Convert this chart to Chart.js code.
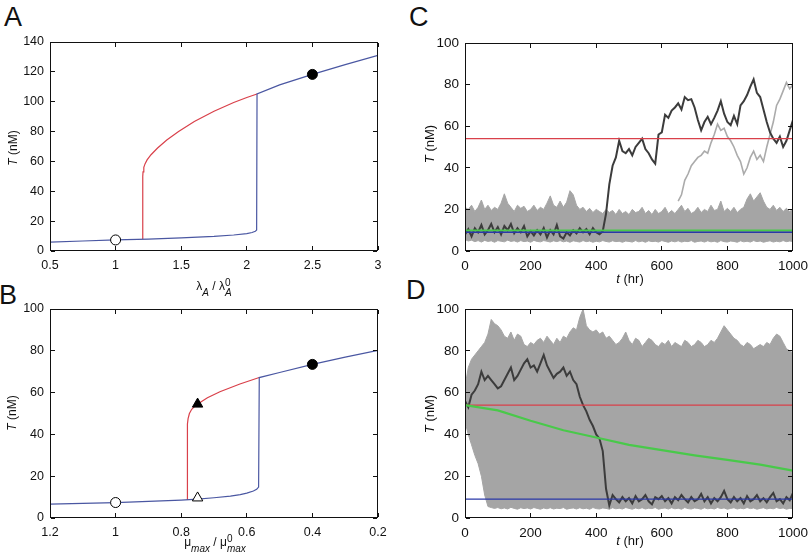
<!DOCTYPE html>
<html>
<head>
<meta charset="utf-8">
<script src="https://cdn.jsdelivr.net/npm/chart.js@4"></script>
<style>
  html, body { margin: 0; padding: 0; background: #fff; }
  #fig { position: relative; width: 810px; height: 560px; overflow: hidden;
         font-family: "Liberation Sans", Arial, Helvetica, sans-serif; color: #111; }
  .panel { position: absolute; }
  .box { position: absolute; box-sizing: border-box; border: 1px solid #111; pointer-events: none; z-index: 2; }
  .tk { position: absolute; background: #111; }
  .letter { position: absolute; font-size: 27px; line-height: 27px; }
  .xt, .yt { position: absolute; white-space: nowrap; font-size: 13px; line-height: 1; }
  .xt { transform: translate(-50%, -50%); }
  .yt { transform: translate(-50%, -50%) rotate(-90deg); }
  .stack { display: inline-block; vertical-align: -0.6em; font-size: 10px; line-height: 0.95; text-align: left; }
  .stack span { display: block; }
  .sub { display: inline-block; vertical-align: -0.6em; font-size: 10px; }
</style>
</head>
<body>
<div id="fig">
  <div class="letter" style="left:4px;top:4px">A</div>
  <div class="letter" style="left:409px;top:4px">C</div>
  <div class="letter" style="left:-1px;top:282px">B</div>
  <div class="letter" style="left:406px;top:277px">D</div>

  <div class="panel" id="pa"><canvas id="chart-a"></canvas></div>
  <div class="panel" id="pb"><canvas id="chart-b"></canvas></div>
  <div class="panel" id="pc"><canvas id="chart-c"></canvas></div>
  <div class="panel" id="pd"><canvas id="chart-d"></canvas></div>

  <div class="yt" style="left:13px;top:148px;font-size:12px"><i>T</i> (nM)</div>
  <div class="xt" style="left:214px;top:288px;font-size:12px">λ<span class="sub"><i>A</i></span> / λ<span class="stack"><span>0</span><span><i>A</i></span></span></div>
  <div class="yt" style="left:12px;top:413px;font-size:12px"><i>T</i> (nM)</div>
  <div class="xt" style="left:215px;top:544px;font-size:12px">μ<span class="sub"><i>max</i></span> / μ<span class="stack"><span>0</span><span><i>max</i></span></span></div>
  <div class="yt" style="left:429px;top:144px"><i>T</i> (nM)</div>
  <div class="xt" style="left:630px;top:278px"><i>t</i> (hr)</div>
  <div class="yt" style="left:429px;top:414px"><i>T</i> (nM)</div>
  <div class="xt" style="left:630px;top:540px"><i>t</i> (hr)</div>
</div>

<script>
// ── Panel A: bifurcation in λA ───────────────────────────
const aBlueX = [0.5, 0.75, 1.0, 1.25, 1.5, 1.75, 1.9, 2.0, 2.04, 2.065, 2.075, 2.078, 2.25, 2.5, 2.75, 3.0];
const aBlueY = [6.0, 6.7, 7.4, 8.0, 8.8, 9.8, 10.7, 11.6, 12.4, 13.2, 14.0, 105.2, 111.3, 118.3, 124.8, 131];
const aRedX  = [1.207, 1.207, 1.209, 1.215, 1.225, 1.24, 1.27, 1.32, 1.39, 1.48, 1.6, 1.75, 1.9, 2.0, 2.078];
const aRedY  = [8.0, 50, 53, 56, 58.5, 61, 64.5, 69, 74.4, 80, 86.8, 93.6, 99.5, 102.8, 105.2];
const aOpenPt   = [1.0, 7.4];
const aFilledPt = [2.5, 118.3];

// ── Panel B: bifurcation in μmax ─────────────────────────
const bBlueX = [1.2, 1.1, 1.0, 0.9, 0.8, 0.75, 0.7, 0.65, 0.62, 0.6, 0.58, 0.57, 0.564, 0.562, 0.5, 0.4, 0.3, 0.2];
const bBlueY = [6.6, 7.0, 7.4, 8.0, 8.6, 9.0, 9.7, 10.5, 11.2, 11.9, 12.9, 13.7, 14.8, 67.2, 69.6, 73.5, 77.0, 80.2];
const bRedX  = [0.781, 0.781, 0.779, 0.775, 0.768, 0.758, 0.745, 0.72, 0.682, 0.621, 0.562];
const bRedY  = [8.6, 45, 47.5, 50, 52, 53.5, 55, 57.5, 60.4, 64.1, 67.2];
const bOpenCircle = [1.0, 7.4];
const bOpenTri    = [0.75, 9.6];
const bFilledTri  = [0.75, 54.5];
const bFilledCirc = [0.4, 73.5];

// ── Panels C/D: stochastic trajectories ──────────────────
const tGrid = [0,10,20,30,40,50,60,70,80,90,100,110,120,130,140,150,160,170,180,190,200,210,220,230,240,250,260,270,280,290,
  300,310,320,330,340,350,360,370,380,390,400,410,420,430,440,450,460,470,480,490,500,510,520,530,540,550,560,570,580,590,
  600,610,620,630,640,650,660,670,680,690,700,710,720,730,740,750,760,770,780,790,800,810,820,830,840,850,860,870,880,890,
  900,910,920,930,940,950,960,970,980,990,1000];
const tSpan = [0, 1000];
const redLevel  = [54, 54];
const blueLevel = [9, 9];

const cBandTop = [21,20,22,19,21,24.5,20,22,19.5,21, 20,23,27.5,23,21,19,22,20.5,21.5,19,
  20,22,19.5,21,20,23,26.5,22,21,24, 21,23.5,29,27,22,20,21,19,20.5,18.5,
  20,19,18,20,18.5,19.5,17.5,20,18,19, 17.5,20,18.5,19,21,18,19.5,17.5,20,18,
  19,21,18,19.5,18,20,22,19,20.5,18, 19,21,18.5,20,19,22,19.5,20,24,19,
  20.5,19,21,18.5,20,21,25,27.5,24,26, 28,24,21,20,22,19.5,21,19,20.5,19,20];
const cBandLow = [5.5,4.8,5.2,4.5,5.0,4.3,5.1,4.6,4.9,4.2, 5.0,4.7,4.4,5.2,4.6,4.9,4.3,5.0,4.5,4.8,
  4.2,5.1,4.6,4.4,5.0,4.7,4.3,4.9,4.5,5.0, 4.4,4.8,4.2,4.9,4.6,4.3,5.0,4.5,4.8,4.2,
  4.7,4.4,5.0,4.6,4.3,4.9,4.5,4.7,4.2,4.8, 4.6,4.3,5.0,4.4,4.8,4.2,4.9,4.5,4.7,4.3,
  5.0,4.6,4.2,4.8,4.4,4.9,4.3,4.7,4.5,5.0, 4.2,4.6,4.8,4.3,4.9,4.4,4.7,4.2,5.0,4.5,
  4.3,4.8,4.6,4.2,4.9,4.4,4.7,4.3,5.0,4.5, 4.8,4.2,4.6,4.9,4.3,4.7,4.4,5.0,4.5,4.8,4.6];
const cDark = [8,10.5,7,11,9,12.5,8,10,13,9, 11.5,8,12,10,13,8.5,11,9,12,7,
  9.5,7.5,10,8,11,6.5,10,8,12.5,7, 6,9,7.5,10,8.5,11,9,10.5,8,11,
  9,8,9.5,18,32,41,45,53,48,47, 49,46,50,52,54,49,47,44,42,56,
  57,65.5,64,67.5,69,71,68,74,72.5,73, 69,63,58,62,64.5,61,64,67.5,72,66,
  62,60.5,65,61,70,72,75,79,82.5,76, 74,68,62,57,54,52,55,50,53,58,63];
const cLightT = [650,660,670,680,690,700,710,720,730,740,750,760,770,780,790,800,810,820,830,840,850,
  860,870,880,890,900,910,920,930,940,950,960,970,980,990,1000];
const cLight = [24,27,34,37,41,43,45,46,48,47,52,56,61,58,59,55,53,50,46,43,37,
  40,45,48,44,46,43,50,56,62,70,73,77,81,78,80];
const cGreen = [9.8, 9.8];

const dBandTop = [63,72,76,78,80,82,84,88,95,93, 92,90,87,86,89,85,88,87,83,82,
  84,83,85,86,84,87,85,83,86,84, 87,86,89,91,90,96,100,92,90,89,
  90,88,89,86,87,85,83,84,86,89, 85,83,86,85,82,84,86,85,83,82,
  84,83,85,82,84,83,82,85,84,82, 83,85,84,82,83,85,84,86,89,92,
  90,88,86,85,83,82,84,83,81,82, 83,82,84,83,86,88,87,84,81,80,79];
const dBandLow = [46,40,35,30,26,20,11,5.5,5.0,4.6, 5.0,4.4,4.8,4.3,5.1,4.6,4.2,4.9,4.5,4.8,
  4.3,5.0,4.6,4.2,4.8,4.4,4.9,4.3,4.7,4.5, 5.0,4.2,4.6,4.8,4.3,4.9,4.4,4.7,4.2,5.0,
  4.5,4.3,4.8,4.6,4.2,4.9,4.4,4.7,4.3,5.0, 4.6,4.2,4.8,4.4,4.9,4.3,4.7,4.5,5.0,4.2,
  4.6,4.8,4.3,4.9,4.4,4.7,4.2,5.0,4.5,4.3, 4.8,4.6,4.2,4.9,4.4,4.7,4.3,5.0,4.5,4.8,
  4.2,4.6,4.9,4.3,4.7,4.4,5.0,4.5,4.8,4.2, 4.6,4.9,4.3,4.7,4.4,5.0,4.5,4.8,4.2,4.6,4.5];
const dDark = [56,53,59,61,64,70,66,68,66,64, 62,63,66,69,72,66,68,71,74,76,
  72,73,70,74,78,73,70,67,69,70, 72,68,70,66,64,58,54,51,47,44,
  40,38,32,14,6,11,9,7.5,10,8, 9.5,7,10.5,8,9,11,8,6.5,10,9,
  10.5,8,9.5,7,10,8.5,11,9,7.5,10, 8,9,11.5,8,10,7,9.5,8,10,13,
  9,7.5,10,8,9.5,7,10.5,8,9,11, 8,9.5,7.5,10,12,8,9,7,10,8.5,12];
const dGreenT = [0, 100, 200, 300, 400, 500, 600, 700, 800, 900, 1000];
const dGreen  = [54, 51.5, 46.5, 42, 38.5, 35, 32.5, 30, 27.8, 25.5, 22.7];

// ── Colours ──────────────────────────────────────────────
const RED   = "#d9404a";
const BLUE  = "#4a57a2";
const NAVY  = "#2a38a8";
const GREEN = "#49c94a";
const BAND  = "#a5a5a5";
const LIGHT = "#ababab";
const DARK  = "#3c3c3c";
const INK   = "#111";
const FONT  = "'Liberation Sans', Arial, Helvetica, sans-serif";

const pts = (xs, ys) => xs.map((x, i) => ({ x, y: ys[i] }));

// ── Box + inward ticks, laid over the canvas from the chart's own scales ──
function drawFrame(chart) {
  const a = chart.chartArea;
  const xs = chart.scales.x, ys = chart.scales.y;
  if (!a || !xs || !ys) return;
  const host = chart.canvas.parentElement;
  let box = host.querySelector(".box");
  if (!box) {
    box = document.createElement("div");
    box.className = "box";
    host.appendChild(box);
  }
  const L = Math.round(a.left), T = Math.round(a.top);
  const W = Math.round(a.right) - L, H = Math.round(a.bottom) - T;
  box.style.left = L + "px";
  box.style.top = T + "px";
  box.style.width = W + "px";
  box.style.height = H + "px";
  box.innerHTML = "";
  const len = 4;
  const add = css => {
    const d = document.createElement("div");
    d.className = "tk";
    Object.assign(d.style, css);
    box.appendChild(d);
  };
  xs.ticks.forEach((tk, i) => {
    const c = Math.round(xs.getPixelForTick(i) - 0.5) - L - 1;
    add({ left: c + "px", bottom: "0px", width: "1px", height: len + "px" });
    add({ left: c + "px", top: "0px", width: "1px", height: len + "px" });
  });
  ys.ticks.forEach((tk, i) => {
    const r = Math.round(ys.getPixelForTick(i) - 0.5) - T - 1;
    add({ top: r + "px", left: "0px", width: len + "px", height: "1px" });
    add({ top: r + "px", right: "0px", width: len + "px", height: "1px" });
  });
}

const framePlugin = {
  id: "framePlugin",
  afterDraw(chart) { try { drawFrame(chart); } catch (e) { /* overlay only */ } },
};

// ── Shared chart builder ─────────────────────────────────
const PAD_T = 16, PAD_R = 22, Y_W = 50, X_H = 26;

function placePanel(el, plot) {
  el.style.left   = (plot.left - Y_W) + "px";
  el.style.top    = (plot.top - PAD_T) + "px";
  el.style.width  = (plot.right - plot.left + Y_W + PAD_R) + "px";
  el.style.height = (plot.bottom - plot.top + PAD_T + X_H) + "px";
}

const fmt = v => String(+v.toFixed(2));

function axis(range, fontSize, padding, fit) {
  return {
    type: "linear",
    min: range.min, max: range.max, reverse: !!range.reverse,
    grid: { display: false, drawTicks: false },
    border: { display: false },
    ticks: { stepSize: range.step, font: { family: FONT, size: fontSize }, color: INK,
             padding, maxRotation: 0, autoSkip: false, callback: fmt },
    afterFit: fit,
  };
}

const charts = [];

function makeChart(canvasId, plot, datasets, xr, yr, fontSize) {
  const canvas = document.getElementById(canvasId);
  placePanel(canvas.parentElement, plot);
  const chart = new Chart(canvas, {
    type: "line",
    data: { datasets },
    options: {
      responsive: true,
      maintainAspectRatio: false,
      animation: false,
      events: [],
      layout: { padding: { top: PAD_T, right: PAD_R, left: 0, bottom: 0 } },
      elements: { point: { radius: 0 }, line: { tension: 0 } },
      scales: {
        x: axis(xr, fontSize, 7, s => { s.height = X_H; }),
        y: axis(yr, fontSize, 6, s => { s.width = Y_W; }),
      },
      plugins: { legend: { display: false }, tooltip: { enabled: false } },
    },
    plugins: [framePlugin],
  });
  charts.push(chart);
  return chart;
}

function curve(data, color, width) {
  return { data, borderColor: color, borderWidth: width, pointRadius: 0, fill: false };
}
function marker(pt, style, bg, r) {
  return { data: [{ x: pt[0], y: pt[1] }], showLine: false, pointStyle: style,
           pointRadius: r, pointBackgroundColor: bg, pointBorderColor: "#000", pointBorderWidth: 1 };
}

// ── Panel A ──────────────────────────────────────────────
makeChart("chart-a", { left: 50, right: 378, top: 42, bottom: 251 }, [
  marker(aOpenPt, "circle", "#fff", 5),
  marker(aFilledPt, "circle", "#000", 5),
  curve(pts(aBlueX, aBlueY), BLUE, 1.2),
  curve(pts(aRedX, aRedY), RED, 1.2),
], { min: 0.5, max: 3, step: 0.5 }, { min: 0, max: 140, step: 20 }, 12.5);

// ── Panel B ──────────────────────────────────────────────
makeChart("chart-b", { left: 50, right: 378, top: 309, bottom: 518 }, [
  marker(bOpenCircle, "circle", "#fff", 5),
  marker(bOpenTri, "triangle", "#fff", 6),
  marker(bFilledTri, "triangle", "#000", 6),
  marker(bFilledCirc, "circle", "#000", 5),
  curve(pts(bBlueX, bBlueY), BLUE, 1.2),
  curve(pts(bRedX, bRedY), RED, 1.2),
], { min: 0.2, max: 1.2, step: 0.2, reverse: true }, { min: 0, max: 100, step: 20 }, 12.5);

// ── Panel C ──────────────────────────────────────────────
makeChart("chart-c", { left: 465, right: 793, top: 43, bottom: 251 }, [
  curve(pts(tSpan, blueLevel), NAVY, 1.5),
  curve(pts(tSpan, cGreen), GREEN, 2),
  curve(pts(tSpan, redLevel), RED, 1.3),
  curve(pts(tGrid, cDark), DARK, 2),
  curve(pts(cLightT, cLight), LIGHT, 1.6),
  Object.assign(curve(pts(tGrid, cBandTop), BAND, 1), { fill: "+1", backgroundColor: BAND }),
  curve(pts(tGrid, cBandLow), BAND, 1),
], { min: 0, max: 1000, step: 200 }, { min: 0, max: 100, step: 20 }, 13.5);

// ── Panel D ──────────────────────────────────────────────
makeChart("chart-d", { left: 465, right: 793, top: 309, bottom: 518 }, [
  curve(pts(tSpan, blueLevel), NAVY, 1.3),
  curve(pts(dGreenT, dGreen), GREEN, 2.2),
  curve(pts(tSpan, redLevel), RED, 1.3),
  curve(pts(tGrid, dDark), DARK, 2),
  Object.assign(curve(pts(tGrid, dBandTop), BAND, 1), { fill: "+1", backgroundColor: BAND }),
  curve(pts(tGrid, dBandLow), BAND, 1),
], { min: 0, max: 1000, step: 200 }, { min: 0, max: 100, step: 20 }, 13.5);

// make sure the boxes exist even if no draw hook fired yet
charts.forEach(c => { try { drawFrame(c); } catch (e) {} });
requestAnimationFrame(() => charts.forEach(c => { try { drawFrame(c); } catch (e) {} }));
</script>
</body>
</html>
